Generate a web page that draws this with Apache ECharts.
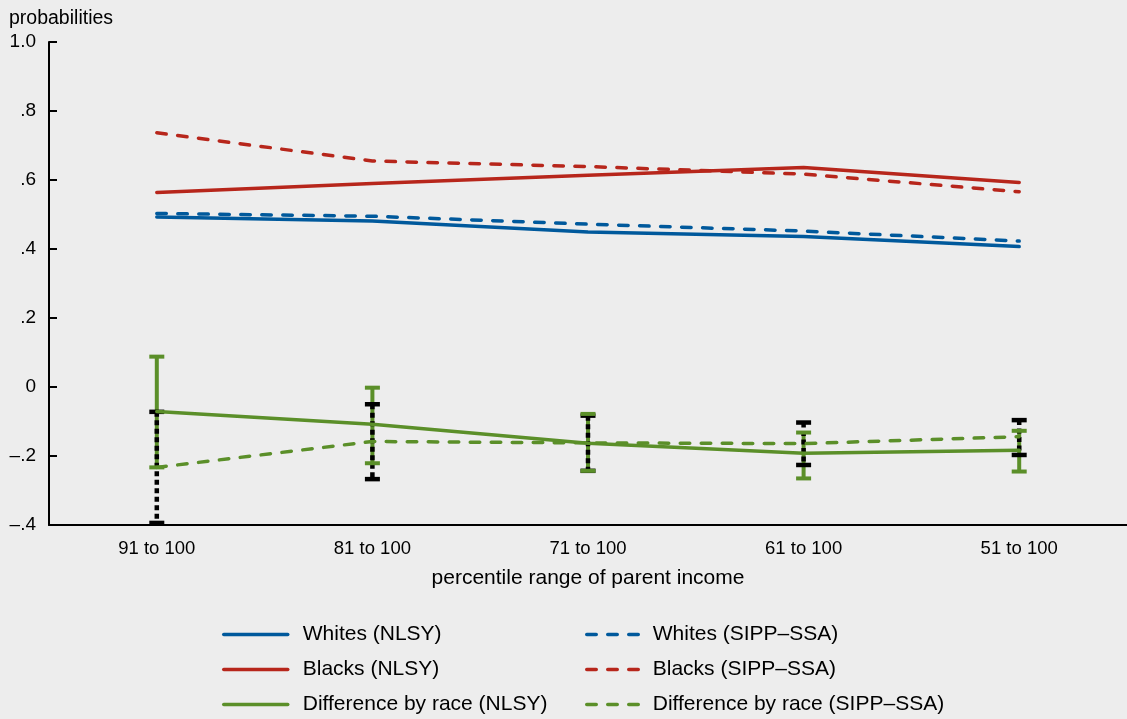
<!DOCTYPE html>
<html>
<head>
<meta charset="utf-8">
<script src="https://cdn.jsdelivr.net/npm/echarts@6/dist/echarts.min.js"></script>
<style>
html,body{margin:0;padding:0;background:#ededed;}
#chart{width:1127px;height:719px;}
</style>
</head>
<body>
<div id="chart"></div>
<script>
const categories = ["91 to 100", "81 to 100", "71 to 100", "61 to 100", "51 to 100"];
const yTickLabels = ["\u2013.4", "\u2013.2", "0", ".2", ".4", ".6", ".8", "1.0"];
const whitesNLSY = [0.493, 0.481, 0.449, 0.436, 0.407];
const whitesSIPP = [0.503, 0.495, 0.472, 0.452, 0.423];
const blacksNLSY = [0.564, 0.590, 0.614, 0.636, 0.593];
const blacksSIPP = [0.737, 0.655, 0.639, 0.617, 0.566];
const diffNLSY = [-0.071, -0.108, -0.163, -0.192, -0.183];
const diffSIPP = [-0.233, -0.158, -0.162, -0.164, -0.144];
const diffNLSYLow = [-0.233, -0.221, -0.243, -0.265, -0.245];
const diffNLSYHigh = [0.088, -0.002, -0.078, -0.132, -0.127];
const diffSIPPLow = [-0.394, -0.267, -0.243, -0.226, -0.197];
const diffSIPPHigh = [-0.072, -0.050, -0.083, -0.103, -0.096];

const BLUE = "#00599c", RED = "#b7261b", GREEN = "#5b8f29";
const FONT = "Liberation Sans";
const dash = [9.5, 11.5];

const names = [
  "Whites (NLSY)", "Blacks (NLSY)", "Difference by race (NLSY)",
  "Whites (SIPP\u2013SSA)", "Blacks (SIPP\u2013SSA)", "Difference by race (SIPP\u2013SSA)"
];

function lineSeries(name, data, color, dashed) {
  return {
    name: name, type: "line", data: data, symbol: "none", z: 5,
    lineStyle: { color: color, width: 3.5, type: dashed ? dash : "solid", cap: "round" },
    itemStyle: { color: color },
    emphasis: { disabled: true }, animation: false
  };
}

function legendItem(name, left, top, width, pad) {
  return {
    orient: "vertical", left: left, top: top, padding: 0, selectedMode: false,
    itemWidth: width, itemHeight: 14,
    itemStyle: { opacity: 0, color: "rgba(0,0,0,0)", borderWidth: 0 },
    lineStyle: { width: 3.5, cap: "round" },
    textStyle: { fontSize: 21, fontFamily: FONT, color: "#000", padding: [0, 0, 0, pad] },
    data: [name]
  };
}

const errData = categories.map((c, i) => [i, diffNLSYLow[i], diffNLSYHigh[i], diffSIPPLow[i], diffSIPPHigh[i]]);

const chart = echarts.init(document.getElementById("chart"));
chart.setOption({
  backgroundColor: "#ededed",
  animation: false,
  textStyle: { fontFamily: FONT, color: "#000" },
  title: {
    text: "probabilities", left: 4, top: 4,
    textStyle: { fontFamily: FONT, fontSize: 19.5, fontWeight: "normal", color: "#000" }
  },
  grid: { left: 49, right: 0, top: 42, bottom: 194, containLabel: false },
  xAxis: {
    type: "category", data: categories, boundaryGap: true,
    axisLine: { onZero: false, lineStyle: { color: "#000", width: 2 } },
    axisTick: { show: false },
    axisLabel: { color: "#000", fontSize: 18.5, fontFamily: FONT, margin: 14 },
    name: "percentile range of parent income", nameLocation: "middle", nameGap: 43,
    nameTextStyle: { color: "#000", fontSize: 21, fontFamily: FONT }
  },
  yAxis: {
    type: "value", min: -0.4, max: 1.0, interval: 0.2,
    splitLine: { show: false },
    axisLine: { show: true, lineStyle: { color: "#000", width: 2 } },
    axisTick: { show: true, inside: true, length: 8, lineStyle: { color: "#000", width: 2 } },
    axisLabel: {
      color: "#000", fontSize: 19, fontFamily: FONT, margin: 13,
      formatter: function (v) { return yTickLabels[Math.round((v + 0.4) / 0.2)]; }
    }
  },
  legend: [
    legendItem(names[0], 222, 624, 64, 10),
    legendItem(names[1], 222, 659, 64, 10),
    legendItem(names[2], 222, 694, 64, 10),
    legendItem(names[3], 585, 624, 54, 7),
    legendItem(names[4], 585, 659, 54, 7),
    legendItem(names[5], 585, 694, 54, 7)
  ],
  series: [
    {
      type: "custom", name: "errorbars", z: 3, silent: true,
      data: errData,
      encode: { x: 0, y: [1, 2, 3, 4] },
      renderItem: function (params, api) {
        const i = api.value(0);
        const x = api.coord([i, 0])[0];
        const gL = api.coord([i, api.value(1)])[1];
        const gH = api.coord([i, api.value(2)])[1];
        const bL = api.coord([i, api.value(3)])[1];
        const bH = api.coord([i, api.value(4)])[1];
        const hw = 7.5;
        return {
          type: "group",
          children: [
            { type: "line", shape: { x1: x, y1: gH, x2: x, y2: gL }, style: { stroke: GREEN, lineWidth: 4 } },
            { type: "line", shape: { x1: x, y1: bH, x2: x, y2: bL }, style: { stroke: "#000", lineWidth: 4.5, lineDash: [5, 3.5] } },
            { type: "line", shape: { x1: x - hw, y1: bH, x2: x + hw, y2: bH }, style: { stroke: "#000", lineWidth: 4.5 } },
            { type: "line", shape: { x1: x - hw, y1: bL, x2: x + hw, y2: bL }, style: { stroke: "#000", lineWidth: 4.5 } },
            { type: "line", shape: { x1: x - hw, y1: gH, x2: x + hw, y2: gH }, style: { stroke: GREEN, lineWidth: 4 } },
            { type: "line", shape: { x1: x - hw, y1: gL, x2: x + hw, y2: gL }, style: { stroke: GREEN, lineWidth: 4 } }
          ]
        };
      }
    },
    lineSeries(names[0], whitesNLSY, BLUE, false),
    lineSeries(names[1], blacksNLSY, RED, false),
    lineSeries(names[2], diffNLSY, GREEN, false),
    lineSeries(names[3], whitesSIPP, BLUE, true),
    lineSeries(names[4], blacksSIPP, RED, true),
    lineSeries(names[5], diffSIPP, GREEN, true)
  ]
});
</script>
</body>
</html>
